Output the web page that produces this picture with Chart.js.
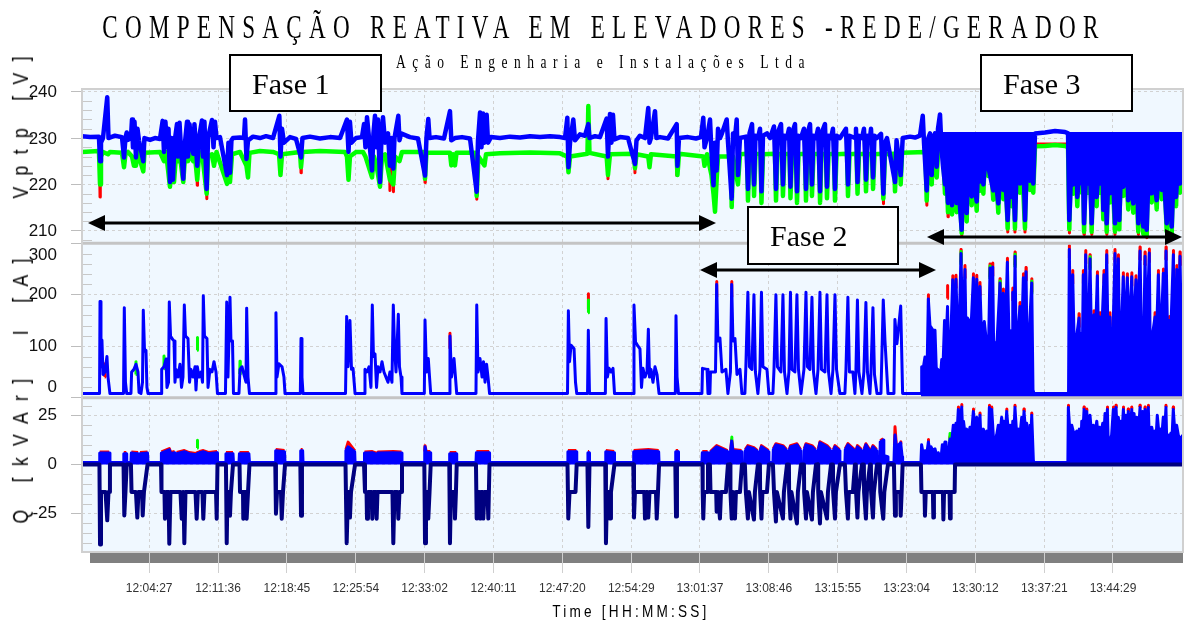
<!DOCTYPE html>
<html>
<head>
<meta charset="utf-8">
<script src="https://cdn.jsdelivr.net/npm/chart.js@4.4.1/dist/chart.umd.min.js"></script>
<style>
  html, body { margin: 0; padding: 0; background: #fff; }
  #wrap { position: relative; width: 1185px; height: 624px; overflow: hidden; }
  #c { position: absolute; left: 0; top: 0; }
  .txt { position: absolute; display: inline-block; white-space: pre; line-height: 1; color: #000; }
</style>
</head>
<body>
<div id="wrap">
  <canvas id="c" width="1185" height="624"></canvas>
  <div id="title" class="txt" style="font: 34px 'Liberation Serif', serif;">COMPENSAÇÃO REATIVA EM ELEVADORES -REDE/GERADOR</div>
  <div id="sub" class="txt" style="font: 18px 'Liberation Serif', serif;">Ação Engenharia e Instalações Ltda</div>
  <div id="ytitle" class="txt" style="font: 22px 'Liberation Sans', sans-serif;">Q [kVAr]  I [A]   Vptp [V]</div>
  <div id="xtitle" class="txt" style="font: 17px 'Liberation Sans', sans-serif;">Time [HH:MM:SS]</div>
</div>
<script>
// x values are minutes after 12:00:00
const tickLabels = ['12:04:27', '12:11:36', '12:18:45', '12:25:54', '12:33:02', '12:40:11', '12:47:20',
  '12:54:29', '13:01:37', '13:08:46', '13:15:55', '13:23:04', '13:30:12', '13:37:21', '13:44:29'];
const vTicks = [210, 220, 230, 240];
const iTicks = [0, 100, 200, 300];
const qTicks = [-25, 0, 25];

// Voltage [V]
const vBlue = [[-2.52,230.4],[-1.69,230.2],[-0.76,230.3],[-0.65,225],[-0.55,229],[-0.34,230],[0.10,238.8],[0.23,230],[0.90,230.5],[1.63,230.2],[1.84,225.8],[1.99,230],[2.12,231.2],[2.25,229.6],[2.56,230],[2.67,234],[2.77,228],[2.93,233.5],[3.08,225.8],[3.24,232],[3.39,229.5],[3.84,225],[3.96,230],[4.54,229.6],[5.05,230],[5.57,229.8],[5.85,233.7],[5.99,227],[6.14,233.5],[6.30,228],[6.46,232],[6.61,220.5],[6.77,230],[6.92,221],[7.08,229],[7.34,233],[7.44,226],[7.60,233.3],[7.75,228],[7.99,221.2],[8.12,228],[8.38,233.5],[8.48,226],[8.64,233],[8.79,229],[9.03,226.6],[9.15,233],[9.31,228],[9.44,224],[9.62,230],[9.93,233.8],[10.04,226],[10.19,233.5],[10.42,219],[10.56,230],[10.97,233.9],[11.13,228],[11.28,233.5],[11.44,230],[11.80,230.2],[12.53,222],[12.68,229],[12.84,222.5],[12.99,229.5],[13.15,230],[13.88,230.1],[14.29,230],[14.40,234],[14.55,225.5],[14.71,229.5],[15.23,230.3],[15.95,230],[16.58,230.4],[17.30,230],[17.96,234.8],[18.08,226],[18.24,232],[18.44,229],[19.07,230.2],[19.69,229.8],[20.21,225.8],[20.36,230],[21.14,230.3],[22.18,229.9],[23.22,230.2],[24.26,230],[24.98,234],[25.14,227],[25.29,233.5],[25.45,229],[25.92,230],[26.54,230.2],[26.75,233],[26.90,228],[27.06,234.5],[27.27,230],[27.58,223],[27.73,231],[27.89,234.8],[28.05,228],[28.20,234],[28.41,220.5],[28.56,230],[28.72,234.5],[28.93,229],[29.24,231],[29.44,224],[29.60,230],[29.79,223.4],[29.91,230],[30.31,234.8],[30.43,229.5],[30.59,231],[31.52,230.2],[32.35,229.9],[33.08,221.9],[33.23,230],[33.42,234.1],[33.55,230],[34.22,230.2],[35.05,229.9],[35.67,235.8],[35.81,229.5],[36.19,230],[36.92,230.2],[37.75,229.9],[38.44,218.4],[38.58,229.5],[38.79,235.5],[38.94,228],[39.10,235.3],[39.25,229],[39.48,235],[39.62,229],[39.93,230.2],[40.86,230],[41.90,230.3],[42.94,230.1],[43.98,230.4],[45.01,230.2],[46.05,230.4],[47.09,230.2],[47.61,230],[47.85,234.4],[47.97,223.7],[48.13,229],[48.47,234],[48.65,229.5],[49.16,230.8],[49.68,230.5],[50.03,233],[50.15,230],[50.72,230.4],[51.24,230.2],[51.93,234.2],[52.07,226],[52.28,235.2],[52.43,229],[52.59,235],[52.74,229.7],[53.32,230.2],[54.15,230],[54.87,224.4],[55.03,229.5],[55.39,230.5],[55.91,230],[56.25,236.5],[56.38,229],[56.53,230],[56.95,235.8],[57.10,230],[57.47,230.2],[58.30,229.9],[59.20,233],[59.28,224],[59.44,230],[60.37,230.2],[61.20,229.9],[61.72,230.2],[61.96,234.4],[62.09,228],[62.35,230],[62.66,234],[62.81,227],[63.02,219.8],[63.18,229],[63.35,223],[63.49,232],[63.70,230],[63.90,231],[64.39,234],[64.53,229],[64.91,216.9],[65.05,231],[65.25,230],[65.43,234],[65.56,222],
  [65.77,230],[66.40,230.3],[66.60,219],[66.76,231],[67.02,233],[67.23,220],[67.38,230.5],[67.64,230],[67.85,232],[68.00,218.5],[68.16,230.5],[68.57,231],[68.89,230],[69.30,232.5],[69.51,219],[69.66,231],[70.03,233],[70.23,220],[70.39,230.5],[70.65,230],[70.86,232],[71.01,219.5],[71.17,231],[71.48,233],[71.69,218.5],[71.84,230.5],[72.10,230],[72.41,232],[72.62,219],[72.78,231],[73.04,233],[73.24,220],[73.40,230.5],[73.66,230],[73.87,232],[74.08,218.5],[74.23,231],[74.59,233],[74.80,219.5],[74.96,230.5],[75.22,230],[75.42,232],[75.63,219],[75.79,230.5],[76.15,230],[76.77,232],[76.98,220],[77.14,230.5],[77.71,230],[77.81,232],[77.97,220.5],[78.12,230.5],[78.43,230],[78.64,232],[78.85,221],[79.00,230.5],[79.26,230],[79.37,232],[79.58,221.5],[79.73,230.5],[79.99,230],[80.41,230.9],[80.65,218],[80.82,229],[81.03,230],[81.86,220.5],[82.02,229.5],[82.45,222],[82.66,230],[83.42,230.3],[83.94,230.1],[84.45,230.5],[84.74,234.8],[84.87,229],[85.15,218.7],[85.32,230],[85.49,231],[85.67,222],[85.80,230],[86.01,231],[86.19,223.8],[86.32,232],[86.53,235.1],[86.68,228],
  [86.84,224],[87.05,220],[87.15,223],[87.36,216],[87.52,222],[87.62,228],[87.78,215.5],[87.93,222.5],[88.26,216],[88.40,221],[88.78,210.2],[88.92,222],[89.30,213.8],[89.43,223],[89.62,228],[89.82,217.4],[89.96,222],[90.34,216.3],[90.48,223.5],[90.68,220.6],[90.84,224],[91.03,220],[91.20,224.5],[91.41,229],[91.54,223.8],[91.72,222],[92.06,218.7],[92.24,222.5],[92.58,215.9],[92.76,222],[92.90,228],[93.10,218.8],[93.27,223],[93.55,212.3],[93.74,222],[93.97,217.3],[94.10,223],[94.31,212.3],[94.47,222],[94.65,228],[94.83,220.2],[94.99,223.5],[95.15,229],[95.35,212.3],[95.51,222],[95.87,220.8],[96.03,224],[96.21,220.2],[96.39,231],[97.43,231.2],[98.47,231.5],[99.50,231.3],[99.82,231],
  [99.95,212.3],[100.13,222],[100.37,220],[100.54,223.5],[100.66,228],[100.78,217.3],[100.96,222],[101.09,229],[101.24,220.2],[101.37,222.5],[101.48,211.6],[101.68,222],[101.92,220.2],[102.10,223],[102.27,211.6],[102.46,222],[102.62,228],[102.79,217.3],[102.96,222.5],[103.14,220.2],[103.29,223],[103.38,228],[103.48,214.5],[103.66,222],[103.83,211.6],[104.00,222],[104.17,218.1],[104.33,229],[104.49,222],[104.69,211.6],[104.88,222],[105.14,212.3],[105.31,222.5],[105.55,219.5],[105.73,223],[105.88,228],[106.07,216.6],[106.25,222],[106.59,215.9],[106.77,222.5],[106.93,228],[107.11,211.6],[107.29,222],[107.63,210.9],[107.81,221.5],[107.98,210.2],[108.17,222],[108.32,229],[108.50,218.1],[108.69,222.5],[109.02,216.6],[109.21,222],[109.37,228],[109.54,218.8],[109.73,223],[110.06,211.6],[110.25,222],[110.58,210.9],[110.77,222],[110.90,228],[111.03,217.3],[111.18,223],[111.44,220.2],[111.60,223],[111.75,224]];

const vGreen = [[-2.52,227],[-0.76,227.2],[-0.65,220],[-0.55,226],[-0.34,227],[0.18,226.5],[0.38,227],[1.63,226.8],[1.84,223.7],[1.99,226.5],[2.25,227],[2.67,226],[2.87,224],[3.08,224],[3.29,227.5],[3.39,226],[3.84,222.8],[3.96,226.8],[5.57,227],[5.78,226],[5.99,225],[6.20,227],[6.61,219.5],[6.82,225],[7.03,220.5],[7.23,226],[7.44,225],[7.65,226],[7.99,220.5],[8.17,226],[8.48,225],[8.69,226.5],[9.03,225],[9.21,226],[9.44,221],[9.62,226],[9.93,227],[10.42,218],[10.56,226],[10.97,226.5],[11.18,224],[11.44,227],[12.53,220.1],[12.68,226],[12.84,220.5],[13.05,226.5],[13.88,227],[14.55,224],[14.71,221.5],[14.86,226.8],[15.95,227.2],[17.30,227],[17.93,226.5],[18.08,222],[18.24,226.5],[20.10,227],[20.21,223.7],[20.36,227],[22.18,227.2],[24.77,227],[24.98,226],[25.14,221],[25.29,226],[25.92,227],[26.64,227],[26.90,226],[27.58,221.5],[27.79,226],[28.05,224],[28.41,219.5],[28.62,226],[28.93,226.5],[29.44,221],[29.79,220],[29.97,226],[30.43,225],[30.69,227],[32.97,227],[33.08,221.2],[33.23,226.8],[35.67,226.8],[35.81,224.1],[35.98,226.5],[36.19,224.1],[36.35,226.8],[38.37,226.8],[38.44,217.5],[38.63,226],[39.25,224.1],[39.41,226.5],[40.86,226.7],[43.98,226.9],[47.09,226.7],[47.85,226],[47.97,222.6],[48.13,226],[49.94,226.6],[50.03,236.9],[50.15,226.8],[51.93,226],[52.07,222],[52.28,226.5],[54.77,226.6],[54.87,223.5],[55.03,226.5],[56.25,226],[56.38,223.7],[56.53,226.5],[59.20,226],[59.28,222],[59.44,226.6],[61.96,226],[62.09,224],[62.35,226.5],[62.81,222],[63.02,218],[63.18,214.1],[63.35,221],[63.49,226],[64.84,226],[64.91,215.1],[65.05,226],[65.56,220],[65.77,226.5],
  [66.50,226.6],[66.60,216.5],[66.76,226.5],[67.12,226.6],[67.23,217.5],[67.38,226.5],[67.90,226.6],[68.00,216],[68.16,226.5],[69.40,226.6],[69.51,216.5],[69.66,226.5],[70.13,226.6],[70.23,217.5],[70.39,226.5],[70.91,226.6],[71.01,217],[71.17,226.5],[71.58,226.6],[71.69,216],[71.84,226.5],[72.52,226.6],[72.62,216.5],[72.78,226.5],[73.14,226.6],[73.24,217.5],[73.40,226.5],[73.97,226.6],[74.08,216],[74.23,226.5],[74.70,226.6],[74.80,217],[74.96,226.5],[75.53,226.6],[75.63,216.5],[75.79,226.5],[76.88,226.6],[76.98,217.5],[77.14,226.5],[77.86,226.6],[77.97,218],[78.12,226.5],[78.74,226.6],[78.85,218.5],[79.00,226.5],[79.47,226.6],[79.58,219],[79.73,226.5],[80.51,226.6],[80.65,216.9],[80.82,226.5],[81.76,226.6],[81.86,218.5],[82.02,226.5],[82.33,226.6],[82.45,220],[82.59,226.8],[85.02,227],[85.15,216.5],[85.32,226.5],[85.67,220],[85.80,226.5],[86.19,221.5],[86.32,226.5],
  [86.84,227],[87.05,218],[87.15,227],[87.36,214],[87.52,227],[87.78,213.5],[87.93,227],[88.26,214],[88.40,227],[88.78,209.5],[88.92,227],[89.30,212],[89.43,227],[89.82,215.5],[89.96,227],[90.34,214.3],[90.48,227],[90.68,218.6],[90.84,227],[91.03,218],[91.20,227],[91.54,221.8],[91.72,227],[92.06,216.7],[92.24,227],[92.58,213.9],[92.76,227],[93.10,216.8],[93.27,227],[93.55,210.5],[93.74,227],[93.97,215.3],[94.10,227],[94.31,210.5],[94.47,227],[94.83,218.2],[94.99,227],[95.35,210.5],[95.51,227],[95.87,218.8],[96.03,227],[96.21,218.2],[96.39,228.2],[97.43,228.3],[98.47,228.5],[99.50,228.3],[99.82,228],[99.95,210.3],[100.13,227],[100.37,218],[100.54,227],[100.78,215.3],[100.96,227],[101.24,218.2],[101.37,227],[101.48,209.8],[101.68,227],[101.92,218.2],[102.10,227],[102.27,209.8],[102.46,227],[102.79,215.3],[102.96,227],[103.14,218.2],[103.29,227],[103.48,212.5],[103.66,227],[103.83,209.8],[104.00,227],[104.17,216.1],[104.33,227],[104.69,209.8],[104.88,227],[105.14,210.3],[105.31,227],[105.55,217.5],[105.73,227],[106.07,214.6],[106.25,227],[106.59,213.9],[106.77,227],[107.11,209.8],[107.29,227],[107.63,209.3],[107.81,227],[107.98,209],[108.17,227],[108.50,216.1],[108.69,227],[109.02,214.6],[109.21,227],[109.54,216.8],[109.73,227],[110.06,209.8],[110.25,227],[110.58,209.3],[110.77,227],[111.03,215.3],[111.18,227],[111.44,218.2],[111.60,227],[111.75,227]];

// red phase only shows where it leaves the green/blue traces (tips), gaps elsewhere
const vRed = [[-0.68,222.3],[-0.65,217.3],[-0.62,222.3],[-0.61,null],[9.41,224.8],[9.44,219.8],[9.47,224.8],[9.48,null],[10.39,221.9],[10.42,216.9],[10.45,221.9],[10.46,null],[20.18,227.5],[20.21,222.5],[20.24,227.5],[20.25,null],[29.41,223.7],[29.44,218.7],[29.47,223.7],[29.48,null],[29.76,223.4],[29.79,218.4],[29.82,223.4],[29.83,null],[33.05,225.4],[33.08,220.4],[33.11,225.4],[33.12,null],[38.41,221.8],[38.44,216.8],[38.47,221.8],[38.48,null],[52.04,226.2],[52.07,221.2],[52.10,226.2],[52.11,null],[54.84,227.5],[54.87,222.5],[54.90,227.5],[54.91,null],[59.17,226.9],[59.20,221.9],[59.23,226.9],[59.24,null],[80.62,220.8],[80.65,215.8],[80.68,220.8],[80.69,null],[85.12,220.5],[85.15,215.5],[85.18,220.5],[85.19,null],[87.33,218],[87.36,213],[87.39,218],[87.40,null],[88.75,214],[88.78,209],[88.81,214],[88.82,null],[93.52,214.7],[93.55,209.7],[93.58,214.7],[93.59,null],[94.28,214.7],[94.31,209.7],[94.34,214.7],[94.35,null],[95.32,214.7],[95.35,209.7],[95.38,214.7],[95.39,null],[96.45,228.7],[99.75,228.7],[99.76,null],[99.92,214.5],[99.95,209.5],[99.98,214.5],[99.99,null],[101.45,214.2],[101.48,209.2],[101.51,214.2],[101.52,null],[102.24,214.2],[102.27,209.2],[102.30,214.2],[102.31,null],[103.80,214.2],[103.83,209.2],[103.86,214.2],[103.87,null],[104.66,214.2],[104.69,209.2],[104.72,214.2],[104.73,null],[107.08,214.2],[107.11,209.2],[107.14,214.2],[107.15,null],[107.60,213.8],[107.63,208.8],[107.66,213.8],[107.67,null],[107.95,213.5],[107.98,208.5],[108.01,213.5],[108.02,null],[110.03,214.2],[110.06,209.2],[110.09,214.2],[110.10,null],[110.55,213.8],[110.58,208.8],[110.61,213.8]];

// Current [A]
const iBlue = [[-2.52,8],[-0.70,8],[-0.65,187],[-0.55,60],[-0.45,112],[-0.34,45],[-0.14,50],[0.07,80],[0.18,40],[0.38,8],[1.79,8],[1.87,175],[1.99,30],[2.12,8],[2.56,8],[2.63,50],[2.87,55],[3.08,65],[3.29,50],[3.40,10],[3.60,8],[3.76,30],[3.84,170],[3.97,90],[4.12,92],[4.22,20],[4.33,8],[5.68,8],[5.75,55],[5.99,60],[6.20,75],[6.30,20],[6.46,30],[6.54,186],[6.67,120],[6.82,115],[7.03,110],[7.13,30],[7.24,55],[7.44,40],[7.65,65],[7.81,20],[7.96,40],[8.10,180],[8.22,120],[8.48,115],[8.64,30],[8.79,55],[9.00,40],[9.21,60],[9.31,15],[9.45,60],[9.62,40],[9.83,50],[9.99,30],[10.07,198],[10.19,120],[10.45,115],[10.56,20],[10.76,55],[10.97,50],[11.18,70],[11.39,50],[11.54,8],[12.37,8],[12.50,186],[12.63,40],[12.84,195],[12.94,110],[13.10,110],[13.20,8],[13.77,8],[13.88,55],[14.09,60],[14.29,45],[14.50,30],[14.57,174],[14.71,40],[14.86,8],[17.54,8],[17.61,165],[17.72,40],[17.92,66],[18.24,60],[18.44,40],[18.55,8],[20.14,8],[20.21,115],[20.31,40],[20.42,8],[24.83,8],[24.95,158],[25.09,60],[25.29,150],[25.45,55],[25.61,57],[25.82,8],[26.75,8],[26.85,55],[27.06,50],[27.27,60],[27.47,20],[27.61,180],[27.73,80],[27.89,85],[28.05,20],[28.20,60],[28.41,50],[28.62,70],[28.82,50],[29.03,40],[29.24,30],[29.44,50],[29.65,30],[29.79,180],[29.91,100],[30.07,50],[30.31,162],[30.43,60],[30.59,40],[30.69,8],[33.01,8],[33.08,151],[33.24,50],[33.42,76],[33.55,40],[33.67,8],[35.60,8],[35.67,120],[35.83,40],[36.09,76],[36.24,40],[36.37,8],[38.37,8],[38.45,180],[38.58,50],[38.79,76],[39.00,40],[39.15,70],[39.31,30],[39.47,65],[39.62,40],[39.78,8],[47.87,8],[47.96,169],[48.08,70],[48.24,102],[48.55,95],[48.70,30],[48.83,8],[49.95,8],[50.03,131],[50.15,8],[51.80,8],[51.87,154],[52.01,40],[52.18,57],[52.39,50],[52.59,57],[52.75,8],[54.70,8],[54.77,180],[54.93,108],[55.19,100],[55.39,95],[55.55,20],[55.70,57],[55.91,40],[56.12,50],[56.26,133],[56.38,40],[56.54,55],[56.74,30],[56.95,60],[57.16,45],[57.37,8],[59.06,8],[59.13,159],[59.24,40],[59.39,8],
  [61.61,8],[61.82,8],[61.88,57],[62.35,55],[62.45,8],[62.65,8],[62.71,50],[63.23,50],[63.35,220],[63.48,110],[63.69,116],[63.90,50],[64.31,55],[64.52,8],[64.78,50],[64.91,220],[65.04,110],[65.25,115],[65.46,45],[65.77,55],[65.97,8],[66.28,8],[66.38,60],[66.59,205],[66.75,60],[67.01,55],[67.22,200],[67.37,50],[67.63,8],[67.84,55],[68.00,205],[68.15,60],[68.57,55],[68.77,8],[69.19,8],[69.30,55],[69.50,200],[69.66,60],[70.02,50],[70.23,200],[70.39,50],[70.65,8],[70.85,50],[71.01,205],[71.16,55],[71.47,50],[71.68,200],[71.84,55],[72.10,8],[72.41,55],[72.62,205],[72.77,60],[73.03,55],[73.24,195],[73.40,50],[73.66,8],[73.87,55],[74.07,205],[74.23,55],[74.59,50],[74.80,200],[74.96,50],[75.22,8],[75.42,55],[75.63,200],[75.79,55],[76.14,8],[76.66,8],[76.77,55],[76.97,195],[77.13,50],[77.49,50],[77.70,8],[77.80,50],[77.96,190],[78.11,50],[78.43,8],[78.63,50],[78.84,185],[79.00,50],[79.26,8],[79.36,45],[79.57,175],[79.73,45],[79.99,8],[80.40,8],[80.64,190],[80.82,110],[81.13,8],[81.75,8],[81.85,152],[82.06,105],[82.45,178],[82.65,8],
  [84.56,8],[84.63,60],[84.77,55],[84.97,79],[85.18,45],[85.32,192],[85.49,140],[85.80,131],[86.01,131],[86.17,40],[86.32,55],[86.53,30],[86.71,74],[86.84,60],[87.00,150],[87.15,100],[87.31,177],[87.47,25],[87.57,110],[87.67,130],[87.85,229],[87.98,120],[88.19,230],[88.35,125],[88.50,120],[88.71,280],[88.87,130],[89.12,249],[89.23,120],[89.38,155],[89.54,150],[89.70,115],[89.99,233],[90.16,120],[90.34,230],[90.48,110],[90.68,216],[90.84,120],[91.13,148],[91.31,115],[91.46,20],[91.57,100],[91.72,252],[91.86,110],[92.00,254],[92.14,30],[92.29,105],[92.45,110],[92.76,223],[92.92,125],[93.10,203],[93.28,110],[93.52,263],[93.69,120],[93.90,130],[94.03,20],[94.08,205],[94.21,110],[94.32,275],[94.47,30],[94.63,130],[94.83,177],[94.99,110],[95.18,233],[95.32,100],[95.46,245],[95.61,20],[95.77,120],[96.05,223],[96.18,15],[96.29,8],
  [99.87,8],[99.95,288],[100.07,130],[100.30,239],[100.44,120],[100.62,110],[100.75,125],[100.96,155],[101.11,20],[101.24,125],[101.32,110],[101.40,239],[101.53,120],[101.65,278],[101.79,115],[101.94,120],[102.10,270],[102.25,110],[102.41,20],[102.51,161],[102.67,120],[102.86,237],[102.98,110],[103.14,157],[103.29,115],[103.55,239],[103.69,120],[103.83,278],[103.97,110],[104.17,157],[104.28,20],[104.49,130],[104.69,280],[104.85,120],[105.04,270],[105.21,20],[105.37,140],[105.55,235],[105.73,125],[105.97,233],[106.15,120],[106.43,235],[106.56,115],[106.87,229],[107.03,120],[107.29,285],[107.44,110],[107.60,25],[107.81,275],[107.96,120],[108.25,281],[108.38,20],[108.48,120],[108.64,130],[108.85,157],[109.00,120],[109.19,239],[109.37,115],[109.52,150],[109.71,242],[109.86,20],[109.99,285],[110.15,120],[110.33,150],[110.46,115],[110.75,278],[110.87,20],[110.97,110],[111.10,249],[111.23,120],[111.44,275],[111.59,110],[111.75,120]];

const iGreen = [[3.05,45],[3.08,70],[3.11,45],[3.12,null],[5.96,56],[5.99,81],[6.02,56],[6.03,null],[9.42,92],[9.45,117],[9.48,92],[9.49,null],[13.85,46],[13.88,71],[13.91,46],[13.92,null],[50.00,165],[50.03,190],[50.06,165],[50.07,null],[88.69,259],[88.71,284],[88.73,259],[88.74,null],[91.70,231],[91.72,256],[91.74,231],[91.75,null],[92.74,202],[92.76,227],[92.78,202],[92.79,null],[94.30,254],[94.32,279],[94.34,254],[94.35,null],[96.03,202],[96.05,227],[96.07,202],[96.08,null],[102.08,249],[102.10,274],[102.12,249]];

const iRed = [[-0.17,40],[-0.14,66],[-0.11,40],[-0.10,null],[35.65,95],[35.67,125],[35.69,95],[35.70,null],[50.01,172],[50.03,202],[50.05,172],[50.06,null],[63.33,196],[63.35,226],[63.37,196],[63.38,null],[64.89,196],[64.91,226],[64.93,196],[64.94,null],
  [85.30,175],[85.32,200],[85.34,175],[85.35,null],[87.29,193],[87.31,218],[87.33,193],[87.34,null],[87.83,212],[87.85,237],[87.87,212],[87.88,null],[88.17,213],[88.19,238],[88.21,213],[88.22,null],[88.69,263],[88.71,288],[88.73,263],[88.74,null],[89.10,232],[89.12,257],[89.14,232],[89.15,null],[89.97,216],[89.99,241],[90.01,216],[90.02,null],[90.32,213],[90.34,238],[90.36,213],[90.37,null],[90.66,199],[90.68,224],[90.70,199],[90.71,null],[91.70,235],[91.72,260],[91.74,235],[91.75,null],[91.98,237],[92.00,262],[92.02,237],[92.03,null],[92.74,206],[92.76,231],[92.78,206],[92.79,null],[93.08,186],[93.10,211],[93.12,186],[93.13,null],[93.50,246],[93.52,271],[93.54,246],[93.55,null],[94.06,188],[94.08,213],[94.10,188],[94.11,null],[94.30,258],[94.32,283],[94.34,258],[94.35,null],[94.81,160],[94.83,185],[94.85,160],[94.86,null],[95.16,216],[95.18,241],[95.20,216],[95.21,null],[95.44,228],[95.46,253],[95.48,228],[95.49,null],[96.03,206],[96.05,231],[96.07,206],[96.08,null],
  [99.93,271],[99.95,296],[99.97,271],[99.98,null],[100.28,222],[100.30,247],[100.32,222],[100.33,null],[100.94,138],[100.96,163],[100.98,138],[100.99,null],[101.38,222],[101.40,247],[101.42,222],[101.43,null],[101.63,261],[101.65,286],[101.67,261],[101.68,null],[102.08,253],[102.10,278],[102.12,253],[102.13,null],[102.49,144],[102.51,169],[102.53,144],[102.54,null],[102.84,220],[102.86,245],[102.88,220],[102.89,null],[103.12,140],[103.14,165],[103.16,140],[103.17,null],[103.53,222],[103.55,247],[103.57,222],[103.58,null],[103.81,261],[103.83,286],[103.85,261],[103.86,null],[104.15,140],[104.17,165],[104.19,140],[104.20,null],[104.67,263],[104.69,288],[104.71,263],[104.72,null],[105.02,253],[105.04,278],[105.06,253],[105.07,null],[105.53,218],[105.55,243],[105.57,218],[105.58,null],[105.95,216],[105.97,241],[105.99,216],[106.00,null],[106.41,218],[106.43,243],[106.45,218],[106.46,null],[106.85,212],[106.87,237],[106.89,212],[106.90,null],[107.27,268],[107.29,293],[107.31,268],[107.32,null],[107.79,258],[107.81,283],[107.83,258],[107.84,null],[108.23,264],[108.25,289],[108.27,264],[108.28,null],[108.83,140],[108.85,165],[108.87,140],[108.88,null],[109.17,222],[109.19,247],[109.21,222],[109.22,null],[109.69,225],[109.71,250],[109.73,225],[109.74,null],[109.97,268],[109.99,293],[110.01,268],[110.02,null],[110.31,133],[110.33,158],[110.35,133],[110.36,null],[110.73,261],[110.75,286],[110.77,261],[110.78,null],[111.08,232],[111.10,257],[111.12,232],[111.13,null],[111.42,258],[111.44,283],[111.46,258]];

// Reactive power [kVAr]
const qNavy = [[-2.52,0],[-0.71,0],[-0.65,-40.7],[-0.55,-14],[-0.08,-14],[0.10,-28.4],[0.23,-14],[0.33,-14],[0.38,0],[1.79,0],[1.87,-25.9],[1.99,-14],[2.12,0],[2.56,0],[2.62,-14],[3.08,-14],[3.22,-27],[3.34,-14],[3.71,-14],[3.78,-25.9],[3.91,-14],[4.28,0],[5.68,0],[5.73,-14],[6.04,-14],[6.09,-27.6],[6.20,-14],[6.46,-14],[6.54,-40.3],[6.66,-14],[7.70,-14],[7.83,-27.6],[7.94,-14],[8.01,-14],[8.10,-40],[8.22,-14],[9.26,-14],[9.38,-27.6],[9.50,-14],[9.98,-14],[10.07,-27.6],[10.19,-14],[11.39,-14],[11.46,-27.6],[11.54,0],[12.42,0],[12.50,-40],[12.58,-14],[12.79,-14],[12.84,-26],[12.94,-14],[13.15,0],[13.83,0],[13.88,-14],[14.19,-14],[14.22,-27.6],[14.34,-14],[14.50,-14],[14.57,-27.6],[14.71,-14],[14.86,0],[17.54,0],[17.61,-25],[17.72,-14],[18.13,-14],[18.21,-27.6],[18.34,-14],[18.55,0],[20.14,0],[20.21,-26],[20.31,0],[24.83,0],[24.95,-40],[25.09,-14],[25.24,-14],[25.29,-27],[25.40,-14],[25.82,0],[26.75,0],[26.85,-14],[27.01,-14],[27.06,-27.6],[27.16,-14],[27.53,-14],[27.61,-27.6],[27.73,-14],[27.99,-14],[28.06,-27.6],[28.15,-14],[29.70,-14],[29.79,-40],[29.91,-14],[30.22,-14],[30.31,-27.6],[30.43,-14],[30.64,-14],[30.69,0],[33.01,0],[33.08,-40],[33.18,-14],[33.34,-14],[33.42,-27.5],[33.55,-14],[33.67,0],[35.60,0],[35.67,-40],[35.77,-14],[36.12,-14],[36.19,-27.5],[36.29,-14],[36.37,0],[38.37,0],[38.44,-27.5],[38.53,-14],[38.71,-14],[38.79,-27.5],[38.89,-14],[39.05,-14],[39.13,-27.5],[39.25,-14],[39.56,-14],[39.65,-27.5],[39.77,0],[47.87,0],[47.95,-27.5],[48.08,-14],[48.70,-14],[48.82,0],[49.94,0],[50.03,-31.8],[50.15,0],[51.79,0],[51.86,-40],[51.97,-14],[52.21,-14],[52.28,-27.5],[52.38,-14],[52.74,0],[54.70,0],[54.77,-27],[54.87,-14],[55.84,-14],[55.91,-27.5],[56.02,-14],[56.17,-14],[56.25,-27],[56.38,-14],[57.05,-14],[57.13,-27.5],[57.26,-14],[57.37,0],[59.06,0],[59.13,-26.5],[59.23,0],
  [61.88,0],[61.90,-14],[61.96,-27.5],[62.05,-14],[62.35,-14],[62.45,0],[62.65,0],[62.71,-14],[63.30,-14],[63.35,-24],[63.48,-14],[63.69,-27.5],[63.80,-14],[64.31,-14],[64.52,0],[64.75,0],[64.78,-14],[64.91,-27.5],[65.04,-14],[65.25,-27.5],[65.35,-14],[65.77,-14],[65.97,0],[66.28,0],[66.38,-14],[66.59,-27.5],[66.70,-14],[67.22,-28],[67.32,-14],[67.63,0],[67.84,0],[67.86,-14],[68.00,-27.5],[68.10,-14],[68.57,-14],[68.77,0],[69.19,0],[69.30,-14],[69.50,-29],[69.60,-14],[70.23,-27.5],[70.33,-14],[70.65,0],[70.85,0],[70.87,-14],[71.01,-27.5],[71.11,-14],[71.68,-30],[71.78,-14],[72.10,0],[72.41,0],[72.43,-14],[72.62,-27.5],[72.72,-14],[73.24,-28],[73.34,-14],[73.66,0],[73.87,0],[73.89,-14],[74.07,-30],[74.17,-14],[74.80,-27.5],[74.90,-14],[75.22,0],[75.42,0],[75.44,-14],[75.63,-27.5],[75.73,-14],[76.14,0],[76.66,0],[76.77,-14],[76.97,-27.5],[77.07,-14],[77.49,-14],[77.70,0],[77.80,0],[77.82,-14],[77.96,-27],[78.06,-14],[78.43,0],[78.63,0],[78.65,-14],[78.84,-27.5],[78.94,-14],[79.26,0],[79.36,0],[79.38,-14],[79.57,-27],[79.67,-14],[79.99,0],[80.29,0],[80.33,-14],[80.64,-27.6],[80.75,-14],[81.13,0],[81.75,0],[81.80,-14],[81.86,-26],[81.95,-14],[82.40,-14],[82.45,-26],[82.55,-14],[82.65,0],[84.55,0],[84.60,-14],[84.92,-14],[84.97,-26],[85.05,-14],[85.79,-14],[85.84,-27],[85.90,-14],[86.83,-14],[86.88,-28],[86.95,-14],[87.52,-14],[87.57,-27.5],[87.64,-14],[88.05,-14],[88.09,0],[111.75,0]];

const qBlue = [[-2.52,1],[-0.72,1],[-0.68,5.8],[0.30,5.8],[0.38,1],[1.79,1],[1.82,5.5],[2.08,5.5],[2.12,1],[2.56,1],[2.60,5.8],[3.30,5.5],[3.40,2],[3.50,5.5],[4.28,5.8],[4.33,1],[5.68,1],[5.72,5.8],[6.54,7.5],[6.70,5.5],[7.10,6],[7.20,2],[7.30,5.5],[8.10,6.5],[8.60,5.5],[9.30,5],[9.45,5.5],[9.70,6],[10.07,6.5],[10.60,5.5],[11.50,6],[11.54,1],[12.37,1],[12.42,5.5],[13.15,5.5],[13.20,1],[13.77,1],[13.82,5.5],[14.80,5.5],[14.86,1],[17.54,1],[17.58,7],[18.50,6.5],[18.55,1],[20.14,1],[20.18,7],[20.38,7],[20.42,1],[24.83,1],[24.87,7],[25.10,9],[25.78,6.5],[25.82,1],[26.75,1],[26.80,5.8],[27.61,6],[28.10,5],[28.20,5.8],[29.79,6],[30.64,5.8],[30.69,1],[33.01,1],[33.05,6],[33.08,9],[33.20,6],[33.63,6],[33.67,1],[35.60,1],[35.64,5.5],[36.33,5.5],[36.37,1],[38.37,1],[38.41,6],[39.74,6],[39.78,1],[47.87,1],[47.91,6.5],[48.79,6.5],[48.83,1],[49.95,1],[49.99,6],[50.11,6],[50.15,1],[51.80,1],[51.84,6.5],[52.71,6],[52.75,1],[54.70,1],[54.74,6.5],[56.26,7],[57.33,6.5],[57.37,1],[59.06,1],[59.10,6.5],[59.35,6.5],[59.39,1],
  [61.82,1],[61.86,6],[62.41,6],[62.45,1],[62.65,1],[62.69,6],[63.35,9],[64.48,6.5],[64.52,1],[64.75,1],[64.79,6.5],[64.91,12],[65.04,7],[65.93,6.5],[65.97,1],[66.28,1],[66.32,7],[66.59,9],[67.22,8],[67.59,6.5],[67.63,1],[67.84,1],[67.88,7],[68.00,9],[68.73,6.5],[68.77,1],[69.19,1],[69.23,7.5],[69.50,10],[70.23,9],[70.61,7],[70.65,1],[70.85,1],[70.89,7],[71.01,9],[71.68,10],[72.06,7],[72.10,1],[72.41,1],[72.45,7.5],[72.62,10],[73.24,9],[73.62,7],[73.66,1],[73.87,1],[73.91,7.5],[74.07,11],[74.80,9],[75.18,7],[75.22,1],[75.42,1],[75.46,7],[75.63,9],[76.10,7],[76.14,1],[76.66,1],[76.70,7.5],[76.97,10],[77.66,7],[77.70,1],[77.80,1],[77.84,7],[77.96,9],[78.39,7],[78.43,1],[78.63,1],[78.67,7.5],[78.84,10],[79.22,7],[79.26,1],[79.36,1],[79.40,7],[79.57,9],[79.95,7],[79.99,1],[80.29,1],[80.33,11.5],[80.64,12.5],[80.70,4],[80.75,4.5],[81.09,4],[81.13,1],[81.75,1],[81.80,9],[81.86,15],[82.00,9],[82.45,11],[82.60,4],[82.65,1],
  [84.55,1],[84.62,10],[84.80,5],[84.97,7],[85.15,5],[85.32,11.5],[85.45,8],[85.60,9],[85.80,7],[86.01,8],[86.20,4],[86.36,6],[86.45,4],[86.53,5],[86.65,4],[86.77,10],[86.90,8],[87.05,11.5],[87.15,8],[87.22,7],[87.40,7],[87.57,13],[87.75,12],[87.91,20],[88.05,16],[88.19,21],[88.31,17],[88.43,28],[88.60,18],[88.78,29.3],[88.88,17],[88.97,22],[89.14,15],[89.30,18],[89.47,14],[89.64,19],[89.81,16],[89.99,27],[90.16,17],[90.34,24],[90.51,16],[90.68,25],[90.86,2],[91.03,18],[91.20,15],[91.38,17],[91.52,2],[91.65,29],[91.77,17],[91.90,28],[92.07,14],[92.24,12],[92.41,15],[92.58,20],[92.75,16],[92.93,24],[93.05,17],[93.17,22],[93.31,15],[93.45,27],[93.62,17],[93.80,20],[93.94,3],[94.08,22],[94.20,16],[94.31,29],[94.48,16],[94.66,18],[94.83,15],[95.01,24],[95.13,17],[95.25,27],[95.39,18],[95.53,21],[95.70,3],[95.87,20],[95.96,15],[96.05,25],[96.22,2],[96.30,1],
  [99.80,1],[99.85,29],[100.02,16],[100.20,20],[100.46,15],[100.72,17],[100.85,14],[100.99,18],[101.11,3],[101.24,22],[101.36,16],[101.48,28],[101.62,17],[101.76,27],[101.93,16],[102.10,25],[102.27,15],[102.45,20],[102.62,16],[102.80,22],[102.93,15],[103.07,19],[103.24,16],[103.42,21],[103.54,15],[103.66,26],[103.78,17],[103.90,28],[104.03,3],[104.17,12],[104.34,15],[104.52,28],[104.66,17],[104.80,29],[104.92,16],[105.04,24],[105.16,17],[105.29,22],[105.42,16],[105.56,28],[105.70,17],[105.84,25],[105.95,16],[106.07,27],[106.25,17],[106.43,28],[106.55,16],[106.67,26],[106.81,17],[106.95,24],[107.12,16],[107.29,29],[107.43,17],[107.57,27],[107.69,16],[107.81,28],[107.98,17],[108.15,29],[108.32,3],[108.50,19],[108.67,15],[108.84,17],[108.96,14],[109.08,25],[109.25,16],[109.43,18],[109.56,15],[109.70,24],[109.84,16],[109.98,29],[110.10,3],[110.22,15],[110.36,14],[110.50,16],[110.62,15],[110.74,28],[110.91,16],[111.09,20],[111.26,15],[111.43,13],[111.60,14],[111.74,15]];

const qGreen = [[9.42,8.4],[9.45,12.4],[9.48,8.4],[9.49,null],[64.88,10],[64.91,14],[64.94,10],[64.95,null],[87.54,11.8],[87.57,15.8],[87.60,11.8]];

const qRed = [[-0.68,6.4],[0.30,6.4],[0.31,null],[1.82,6.1],[2.08,6.1],[2.09,null],[2.60,6.4],[3.30,6.1],[3.31,null],[3.50,6.1],[4.28,6.4],[4.29,null],[5.72,6.4],[6.54,8.1],[6.70,6.1],[7.10,6.6],[7.11,null],[7.30,6.1],[8.10,7.1],[8.60,6.1],[9.30,5.6],[9.45,6.1],[9.70,6.6],[10.07,7.1],[10.60,6.1],[11.50,6.6],[11.51,null],[12.42,6.1],[13.15,6.1],[13.16,null],[13.82,6.1],[14.80,6.1],[14.81,null],[17.58,7.6],[18.50,7.1],[18.51,null],[20.18,7.6],[20.38,7.6],[20.39,null],[24.87,7.6],[25.10,11.4],[25.78,7.1],[25.79,null],[26.80,6.4],[27.61,6.6],[28.10,5.6],[28.20,6.4],[29.79,6.6],[30.64,6.4],[30.65,null],[33.05,6.6],[33.08,9.6],[33.20,6.6],[33.63,6.6],[33.64,null],[35.64,6.1],[36.33,6.1],[36.34,null],[38.41,6.6],[39.74,6.6],[39.75,null],[47.91,7.1],[48.79,7.1],[48.80,null],[49.99,6.6],[50.11,6.6],[50.12,null],[51.84,7.1],[52.71,6.6],[52.72,null],[54.74,7.1],[56.26,7.6],[57.33,7.1],[57.34,null],[59.10,7.1],[59.35,7.1],[59.36,null],
  [61.86,6.6],[62.41,6.6],[62.42,null],[62.69,6.6],[63.35,9.6],[64.48,7.1],[64.49,null],[64.79,7.1],[64.91,12.6],[65.04,7.6],[65.93,7.1],[65.94,null],[66.32,7.6],[66.59,9.6],[67.22,8.6],[67.59,7.1],[67.60,null],[67.88,7.6],[68.00,9.6],[68.73,7.1],[68.74,null],[69.23,8.1],[69.50,10.6],[70.23,9.6],[70.61,7.6],[70.62,null],[70.89,7.6],[71.01,9.6],[71.68,10.6],[72.06,7.6],[72.07,null],[72.45,8.1],[72.62,10.6],[73.24,9.6],[73.62,7.6],[73.63,null],[73.91,8.1],[74.07,11.6],[74.80,9.6],[75.18,7.6],[75.19,null],[75.46,7.6],[75.63,9.6],[76.10,7.6],[76.11,null],[76.70,8.1],[76.97,10.6],[77.66,7.6],[77.67,null],[77.84,7.6],[77.96,9.6],[78.39,7.6],[78.40,null],[78.67,8.1],[78.84,10.6],[79.22,7.6],[79.23,null],[79.40,7.6],[79.57,9.6],[79.95,7.6],[79.96,null],[80.33,12.1],[80.64,13.1],[80.65,null],[81.80,9.6],[81.86,19.2],[82.00,9.6],[82.01,null],[82.42,10.6],[82.45,11.6],[82.48,10.6],[82.49,null],
  [85.29,11.7],[85.32,12.7],[85.35,11.7],[85.36,null],[87.54,13.2],[87.57,14.2],[87.60,13.2],[87.61,null],[88.40,28.2],[88.43,29.2],[88.46,28.2],[88.47,null],[88.75,29.5],[88.78,30.5],[88.81,29.5],[88.82,null],[89.96,27.2],[89.99,28.2],[90.02,27.2],[90.03,null],[90.65,25.2],[90.68,26.2],[90.71,25.2],[90.72,null],[91.62,29.2],[91.65,30.2],[91.68,29.2],[91.69,null],[91.87,28.2],[91.90,29.2],[91.93,28.2],[91.94,null],[93.42,27.2],[93.45,28.2],[93.48,27.2],[93.49,null],[94.28,29.2],[94.31,30.2],[94.34,29.2],[94.35,null],[95.22,27.2],[95.25,28.2],[95.28,27.2],[95.29,null],[96.02,25.2],[96.05,26.2],[96.08,25.2],[96.09,null],
  [99.82,29.2],[99.85,30.2],[99.88,29.2],[99.89,null],[101.45,28.2],[101.48,29.2],[101.51,28.2],[101.52,null],[101.73,27.2],[101.76,28.2],[101.79,27.2],[101.80,null],[103.87,28.2],[103.90,29.2],[103.93,28.2],[103.94,null],[104.49,28.2],[104.52,29.2],[104.55,28.2],[104.56,null],[104.77,29.2],[104.80,30.2],[104.83,29.2],[104.84,null],[105.53,28.2],[105.56,29.2],[105.59,28.2],[105.60,null],[106.04,27.2],[106.07,28.2],[106.10,27.2],[106.11,null],[106.40,28.2],[106.43,29.2],[106.46,28.2],[106.47,null],[107.26,29.2],[107.29,30.2],[107.32,29.2],[107.33,null],[107.78,28.2],[107.81,29.2],[107.84,28.2],[107.85,null],[108.12,29.2],[108.15,30.2],[108.18,29.2],[108.19,null],[109.95,29.2],[109.98,30.2],[110.01,29.2],[110.02,null],[110.71,28.2],[110.74,29.2],[110.77,28.2]];

const vMinor = [208, 212, 214, 216, 218, 222, 224, 226, 228, 232, 234, 236, 238];
const iMinor = [20, 40, 60, 80, 120, 140, 160, 180, 220, 240, 260, 280];
const qMinor = [-40, -35, -30, -20, -15, -10, -5, 5, 10, 15, 20, 30];

// the densely sampled Fase 3 stretch reads as a solid band, so it is drawn filled
const denseFrom = { v: 86.8, i: 84.5 };

const toMin = s => { const p = s.split(':').map(Number); return (p[0] - 12) * 60 + p[1] + p[2] / 60; };
const tickVals = tickLabels.map(toMin);

Chart.defaults.font.family = "'Liberation Sans', Arial, sans-serif";

const line = (data, color, axis, width, order, extra) => Object.assign({
  data, yAxisID: axis, borderColor: color, backgroundColor: color, borderWidth: width, order,
  pointRadius: 0, fill: false, tension: 0, borderJoinStyle: 'round', spanGaps: false
}, extra || {});

const denseFill = (from, fill) => ({
  fill,
  segment: { backgroundColor: ctx => ctx.p0.parsed.x >= from ? '#0000ff' : 'rgba(0,0,0,0)' }
});

const yAxis = (min, max, ticks) => ({
  type: 'linear', position: 'left', stack: 'panels', stackWeight: 1, min, max,
  afterBuildTicks: s => { s.ticks = ticks.map(v => ({ value: v })); },
  afterFit: s => { s.width = 82; },
  ticks: { display: false },
  grid: { color: '#d2d2d2', lineWidth: 1, drawTicks: true, tickLength: 11, tickColor: '#bdbdbd' },
  border: { display: false, dash: [3, 3] }
});

const arrow = (ctx, x1, x2, y) => {
  ctx.lineWidth = 3;
  ctx.beginPath(); ctx.moveTo(x1 + 10, y); ctx.lineTo(x2 - 10, y); ctx.stroke();
  ctx.beginPath(); ctx.moveTo(x1, y); ctx.lineTo(x1 + 17, y - 8); ctx.lineTo(x1 + 17, y + 8); ctx.closePath(); ctx.fill();
  ctx.beginPath(); ctx.moveTo(x2, y); ctx.lineTo(x2 - 17, y - 8); ctx.lineTo(x2 - 17, y + 8); ctx.closePath(); ctx.fill();
};
const faseBox = (ctx, x, y, w, h, label) => {
  ctx.fillStyle = '#fff'; ctx.fillRect(x, y, w, h);
  ctx.lineWidth = 2; ctx.strokeStyle = '#000'; ctx.strokeRect(x, y, w, h);
  ctx.fillStyle = '#000'; ctx.font = "30px 'Liberation Serif', serif";
  ctx.textAlign = 'left'; ctx.textBaseline = 'alphabetic';
  ctx.fillText(label, x + 22, y + 39);
};

const deco = {
  id: 'deco',
  beforeDraw(c) {
    const { ctx, chartArea: a } = c;
    ctx.save();
    ctx.fillStyle = '#f0f8ff';
    ctx.fillRect(a.left, a.top, a.right - a.left, a.bottom - a.top);
    ctx.fillStyle = '#808080';
    ctx.fillRect(90, a.bottom + 1, a.right - 90, 10);
    ctx.restore();
  },
  beforeDatasetsDraw(c) {
    const { ctx, chartArea: a } = c;
    ctx.save();
    ctx.strokeStyle = '#c8c8c8'; ctx.lineWidth = 1;
    [['yV', vMinor], ['yI', iMinor], ['yQ', qMinor]].forEach(([id, vals]) => {
      const s = c.scales[id];
      vals.forEach(v => {
        const y = Math.round(s.getPixelForValue(v)) + 0.5;
        ctx.beginPath(); ctx.moveTo(a.left, y); ctx.lineTo(a.left + 10, y); ctx.stroke();
      });
    });
    ctx.restore();
  },
  afterDatasetsDraw(c) {
    const { ctx, chartArea: a } = c;
    ctx.save();
    ctx.strokeStyle = '#c4c4c4'; ctx.lineWidth = 3;
    [c.scales.yV.bottom, c.scales.yI.bottom].forEach(y => {
      ctx.beginPath(); ctx.moveTo(a.left, y); ctx.lineTo(a.right, y); ctx.stroke();
    });
    ctx.strokeStyle = '#d0d0d0'; ctx.lineWidth = 2;
    ctx.strokeRect(a.left, a.top, a.right - a.left, a.bottom - a.top);
    ctx.fillStyle = '#111'; ctx.font = "17px 'Liberation Sans', sans-serif";
    ctx.textAlign = 'right'; ctx.textBaseline = 'middle';
    vTicks.forEach(v => ctx.fillText(String(v), 57, c.scales.yV.getPixelForValue(v) + 1));
    iTicks.forEach(v => {
      let y = c.scales.yI.getPixelForValue(v);
      if (v === 300) y += 12;
      if (v === 0) y -= 10;
      ctx.fillText(String(v), 57, y);
    });
    qTicks.forEach(v => ctx.fillText(v < 0 ? '-' + Math.abs(v) : String(v), 57, c.scales.yQ.getPixelForValue(v)));
    ctx.restore();
  },
  afterDraw(c) {
    const ctx = c.ctx;
    ctx.save();
    ctx.strokeStyle = '#000'; ctx.fillStyle = '#000';
    arrow(ctx, 88, 716, 223);
    arrow(ctx, 700, 936, 270);
    arrow(ctx, 927, 1182, 237);
    faseBox(ctx, 230, 55, 151, 56, 'Fase 1');
    faseBox(ctx, 981, 55, 151, 56, 'Fase 3');
    faseBox(ctx, 748, 207, 150, 57, 'Fase 2');
    ctx.restore();
  }
};

new Chart(document.getElementById('c'), {
  type: 'line',
  data: {
    datasets: [
      line(vBlue, '#0000ff', 'yV', 4.5, 1, denseFill(denseFrom.v, { value: 231.3 })),
      line(vGreen, '#00ff00', 'yV', 4.5, 2),
      line(vRed, '#ff0000', 'yV', 3, 3),
      line(iBlue, '#0000ff', 'yI', 3, 1, denseFill(denseFrom.i, 'origin')),
      line(iGreen, '#00ff00', 'yI', 3, 2),
      line(iRed, '#ff0000', 'yI', 3, 3),
      line(qNavy, '#000080', 'yQ', 4, 0),
      line(qBlue, '#0000ff', 'yQ', 3, 1, { fill: 'origin' }),
      line(qGreen, '#00ff00', 'yQ', 3, 2),
      line(qRed, '#ff0000', 'yQ', 3, 3)
    ]
  },
  options: {
    responsive: false,
    animation: false,
    events: [],
    layout: { padding: { top: 89, right: 2, left: 0, bottom: 0 } },
    plugins: { legend: { display: false }, tooltip: { enabled: false } },
    scales: {
      x: {
        type: 'linear', position: 'bottom', min: -2.52, max: 111.75,
        afterBuildTicks: s => { s.ticks = tickVals.map(v => ({ value: v })); },
        afterFit: s => { s.height = 72; },
        ticks: { autoSkip: false, maxRotation: 0, padding: 8, color: '#333', font: { size: 12 },
          callback: (v, i) => tickLabels[i] },
        grid: { color: '#d2d2d2', lineWidth: 1, drawTicks: true, tickLength: 21, tickColor: '#cfcfcf' },
        border: { display: false, dash: [3, 3] }
      },
      yQ: yAxis(-44.5, 34.0, qTicks),
      yI: yAxis(0, 300, iTicks),
      yV: yAxis(207.28, 240.58, vTicks)
    }
  },
  plugins: [deco]
});

function place(id, cx, cy, target, sx, rot) {
  const el = document.getElementById(id);
  const n = el.textContent.length;
  el.style.letterSpacing = '0px';
  const w = el.offsetWidth;
  const ls = (target / sx - w) / n;
  el.style.letterSpacing = ls + 'px';
  const w2 = el.offsetWidth - ls, h = el.offsetHeight;
  el.style.left = (cx - w2 / 2) + 'px';
  el.style.top = (cy - h / 2) + 'px';
  el.style.transformOrigin = (w2 / 2) + 'px 50%';
  el.style.transform = (rot ? 'rotate(-90deg) ' : '') + 'scaleX(' + sx + ')';
}
place('title', 600, 27, 1003, 0.68, false);
place('sub', 600, 62, 415, 0.75, false);
place('ytitle', 21, 290, 478, 0.8, true);
place('xtitle', 629, 612, 157, 0.8, false);
</script>
</body>
</html>
